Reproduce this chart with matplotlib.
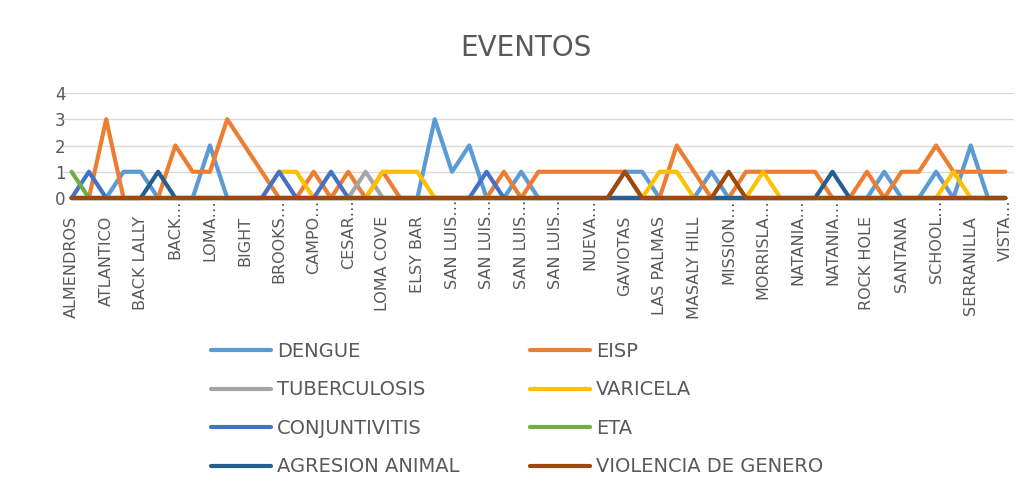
import matplotlib
matplotlib.use("Agg")
import matplotlib.pyplot as plt
import numpy as np

# sites along the x axis (Excel only labels every other one)
sites = [
    "ALMENDROS", "", "ATLANTICO", "", "BACK LALLY", "", "BACK…", "",
    "LOMA…", "", "BIGHT", "", "BROOKS…", "", "CAMPO…", "", "CESAR…", "",
    "LOMA COVE", "", "ELSY BAR", "", "SAN LUIS…", "", "SAN LUIS…", "",
    "SAN LUIS…", "", "SAN LUIS…", "", "NUEVA…", "", "GAVIOTAS", "",
    "LAS PALMAS", "", "MASALY HILL", "", "MISSION…", "", "MORRISLA…", "",
    "NATANIA…", "", "NATANIA…", "", "ROCK HOLE", "", "SANTANA", "",
    "SCHOOL…", "", "SERRANILLA", "", "VISTA…",
]
n = len(sites)


def counts(events):
    row = np.zeros(n)
    for i, v in events.items():
        row[i] = v
    return row


dengue = counts({3: 1, 4: 1, 8: 2, 21: 3, 22: 1, 23: 2, 26: 1, 32: 1, 33: 1,
                 37: 1, 47: 1, 50: 1, 52: 2})
eisp = counts({2: 3, 6: 2, 7: 1, 8: 1, 9: 3, 10: 2, 11: 1, 14: 1, 16: 1, 18: 1,
               25: 1, 27: 1, 28: 1, 29: 1, 30: 1, 31: 1, 32: 1, 35: 2, 36: 1,
               39: 1, 40: 1, 41: 1, 42: 1, 43: 1, 46: 1, 48: 1, 49: 1, 50: 2,
               51: 1, 52: 1, 53: 1, 54: 1})
tuberculosis = counts({17: 1})
varicela = counts({12: 1, 13: 1, 18: 1, 19: 1, 20: 1, 34: 1, 35: 1, 40: 1, 51: 1})
conjuntivitis = counts({1: 1, 12: 1, 15: 1, 24: 1})
eta = counts({0: 1})
agresion = counts({5: 1, 44: 1})
violencia = counts({32: 1, 38: 1})

series = [
    ("DENGUE", dengue, "#5B9BD5"),
    ("EISP", eisp, "#ED7D31"),
    ("TUBERCULOSIS", tuberculosis, "#A5A5A5"),
    ("VARICELA", varicela, "#FFC000"),
    ("CONJUNTIVITIS", conjuntivitis, "#4472C4"),
    ("ETA", eta, "#70AD47"),
    ("AGRESION ANIMAL", agresion, "#255E91"),
    ("VIOLENCIA DE GENERO", violencia, "#9E480E"),
]

text_col = "#595959"
plt.rcParams["font.family"] = ["DejaVu Sans"]

fig = plt.figure(figsize=(10.34, 4.9), dpi=100)
ax = fig.add_axes([0.0609, 0.5959, 0.9197, 0.2143])

x = np.arange(n)
lines = []
for name, vals, col in series:
    ln, = ax.plot(x, vals, color=col, lw=3.0, label=name, clip_on=False,
                  solid_joinstyle="round", solid_capstyle="round")
    lines.append(ln)

ax.set_xlim(-0.5, n - 0.5)
ax.set_ylim(0, 4)
ax.set_yticks([0, 1, 2, 3, 4])
ax.grid(axis="y", color="#d9d9d9", lw=1.0)
ax.set_axisbelow(True)
for s in ax.spines.values():
    s.set_visible(False)

ax.set_xticks(x)
ax.set_xticklabels(sites, rotation=90, fontsize=11.5, color=text_col)
ax.tick_params(axis="x", length=0)
ax.tick_params(axis="y", length=0, pad=-2, labelsize=12, labelcolor=text_col)
# truncated names sit closer to the axis than the full ones
for tick, lab in zip(ax.xaxis.get_major_ticks(), sites):
    tick.set_pad(1 if lab.endswith("…") else 13)

fig.text(0.509, 1 - 48 / 490, "EVENTOS", ha="center", va="center",
         fontsize=20, color=text_col)

order = [0, 2, 4, 6, 1, 3, 5, 7]
leg = fig.legend([lines[i] for i in order], [series[i][0] for i in order],
                 ncol=2, loc="upper left", bbox_to_anchor=(211 / 1034, 1 - 342 / 490),
                 frameon=False, fontsize=14, handlelength=3.1, handletextpad=0.3,
                 columnspacing=3.6, labelspacing=1.0, borderpad=0, borderaxespad=0)
for t in leg.get_texts():
    t.set_color(text_col)

fig.savefig("out.png", dpi=100)
